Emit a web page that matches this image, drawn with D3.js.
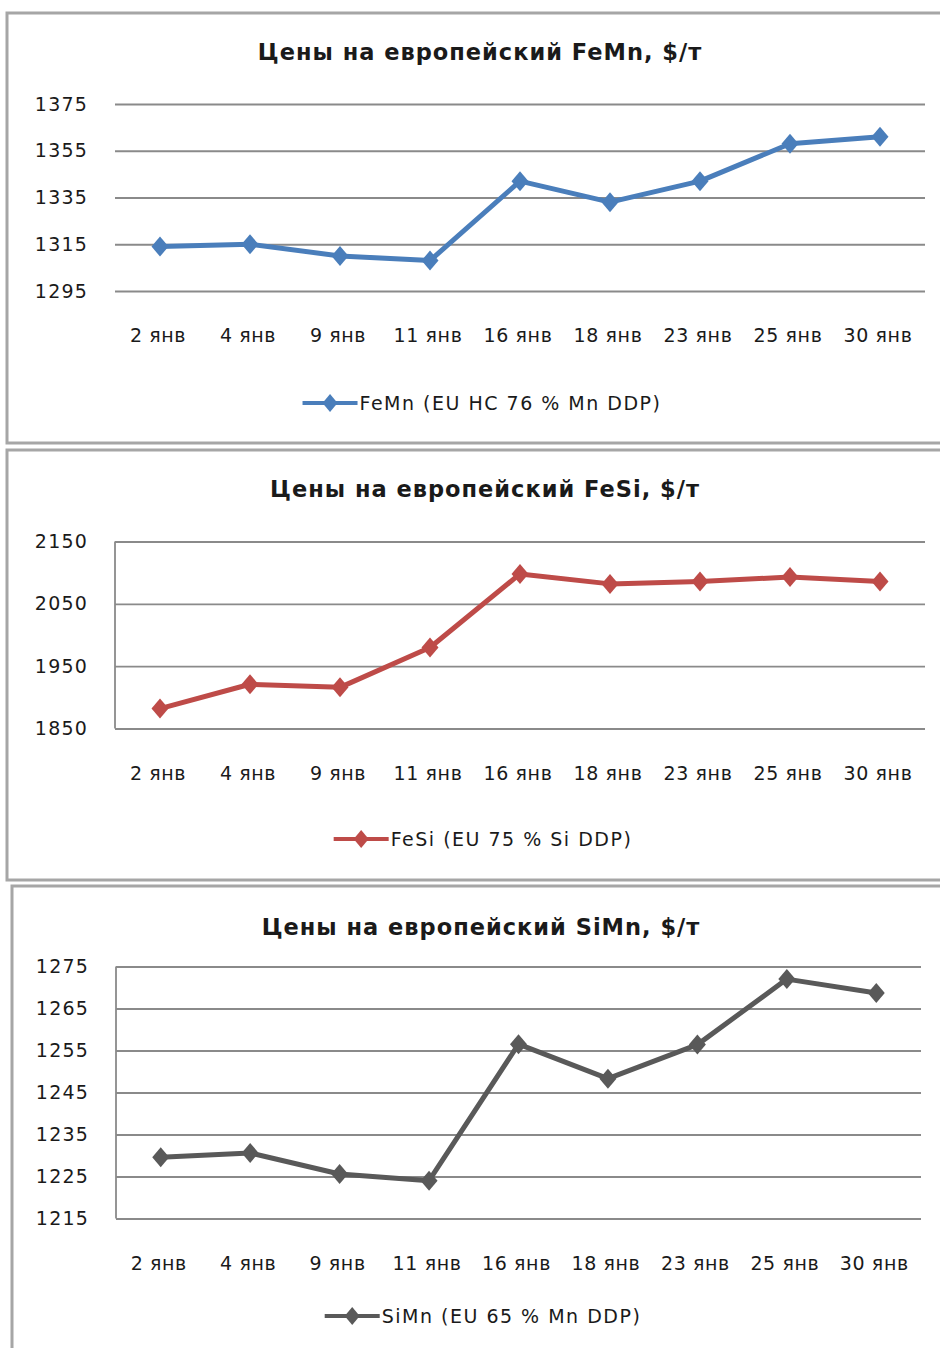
<!DOCTYPE html>
<html>
<head>
<meta charset="utf-8">
<script src="https://cdn.jsdelivr.net/npm/d3@7"></script>
<style>
  body { margin: 0; background: #fff; }
  text { font-family: "DejaVu Sans", "Noto Sans", sans-serif; fill: #1a1a1a; }
</style>
</head>
<body>
<svg id="chart" width="940" height="1348"></svg>
<script>
// categories shared by the three charts
const dates = ["2 янв", "4 янв", "9 янв", "11 янв", "16 янв", "18 янв", "23 янв", "25 янв", "30 янв"];

// FeMn, $/t
const femnValues = [1314, 1315, 1310, 1308, 1342, 1333, 1342, 1358, 1361];
const femnTicks = [1295, 1315, 1335, 1355, 1375];

// FeSi, $/t
const fesiValues = [1882, 1921, 1916, 1980, 2098, 2082, 2086, 2093, 2086];
const fesiTicks = [1850, 1950, 2050, 2150];

// SiMn, $/t
const simnValues = [1229.6, 1230.6, 1225.6, 1224, 1256.5, 1248.3, 1256.4, 1272, 1268.7];
const simnTicks = [1215, 1225, 1235, 1245, 1255, 1265, 1275];

const svg = d3.select("#chart");

const GRID_COLOR = "#8a8a8a";
const BORDER_COLOR = "#a6a6a6";

function diamond(w, h) {
    return "M0," + (-h / 2) + "L" + (w / 2) + ",0L0," + (h / 2) + "L" + (-w / 2) + ",0Z";
}

/**
 * Draws one framed line chart panel
 */
function drawPanel(opts) {
    const g = svg.append("g");

    // frame
    g.append("rect")
        .attr("x", opts.box.x)
        .attr("y", opts.box.y)
        .attr("width", opts.box.w)
        .attr("height", opts.box.h)
        .attr("fill", "#fff")
        .attr("stroke", BORDER_COLOR)
        .attr("stroke-width", 3);

    // title
    g.append("text")
        .attr("x", opts.titleX)
        .attr("y", opts.titleY)
        .attr("text-anchor", "middle")
        .attr("font-size", 22.5)
        .attr("font-weight", "bold")
        .attr("letter-spacing", 1)
        .text(opts.title);

    const x = d3.scaleBand()
        .domain(dates)
        .range([opts.plot.left, opts.plot.right])
        .padding(0);

    const y = d3.scaleLinear()
        .domain([d3.min(opts.ticks), d3.max(opts.ticks)])
        .range([opts.plot.bottom, opts.plot.top]);

    // horizontal grid lines + y labels
    const yAxis = g.append("g")
        .attr("transform", "translate(" + opts.plot.left + ",0)")
        .call(d3.axisLeft(y)
            .tickValues(opts.ticks)
            .tickSize(-(opts.plot.right - opts.plot.left))
            .tickPadding(27)
            .tickFormat(d3.format("d")));
    yAxis.select(".domain").remove();
    yAxis.selectAll(".tick line")
        .attr("stroke", GRID_COLOR)
        .attr("stroke-width", 1.8);
    yAxis.selectAll(".tick text")
        .attr("font-size", 19)
        .attr("font-family", "DejaVu Sans")
        .attr("letter-spacing", 1.2)
        .attr("fill", "#1a1a1a");

    if (opts.yLine) {
        g.append("line")
            .attr("x1", opts.plot.left)
            .attr("x2", opts.plot.left)
            .attr("y1", opts.plot.top)
            .attr("y2", opts.plot.bottom)
            .attr("stroke", GRID_COLOR)
            .attr("stroke-width", 1.8);
    }

    // x labels
    const xAxis = g.append("g")
        .attr("transform", "translate(-2," + opts.plot.bottom + ")")
        .call(d3.axisBottom(x).tickSize(0).tickPadding(38));
    xAxis.select(".domain").remove();
    xAxis.selectAll(".tick text")
        .attr("font-size", 19)
        .attr("font-family", "DejaVu Sans")
        .attr("letter-spacing", 0.6)
        .attr("fill", "#1a1a1a");

    const cx = d => x(d) + x.bandwidth() / 2;

    const line = d3.line()
        .x((v, i) => cx(dates[i]))
        .y(v => y(v));

    g.append("path")
        .datum(opts.values)
        .attr("fill", "none")
        .attr("stroke", opts.color)
        .attr("stroke-width", 5)
        .attr("stroke-linejoin", "round")
        .attr("d", line);

    g.selectAll("path.marker")
        .data(opts.values)
        .enter()
        .append("path")
        .attr("class", "marker")
        .attr("d", diamond(17, 20))
        .attr("fill", opts.color)
        .attr("transform", (v, i) => "translate(" + cx(dates[i]) + "," + y(v) + ")");

    // legend, centred
    const legend = g.append("g");
    const legendText = legend.append("text")
        .attr("x", 57)
        .attr("y", 0)
        .attr("dy", "0.35em")
        .attr("font-size", 19)
        .attr("letter-spacing", 1.5)
        .text(opts.legend);
    const legendWidth = 57 + legendText.node().getComputedTextLength();
    legend.attr("transform", "translate(" + (opts.legendCx - legendWidth / 2) + "," + opts.legendY + ")");
    legend.append("line")
        .attr("x1", 0)
        .attr("x2", 55)
        .attr("stroke", opts.color)
        .attr("stroke-width", 4);
    legend.append("path")
        .attr("d", diamond(15, 18))
        .attr("fill", opts.color)
        .attr("transform", "translate(27.5,0)");
}

drawPanel({
    box: { x: 7, y: 13, w: 950, h: 430 },
    title: "Цены на европейский FeMn, $/т",
    titleX: 480, titleY: 60,
    plot: { left: 115, right: 925, top: 104, bottom: 291 },
    ticks: femnTicks,
    values: femnValues,
    color: "#4a7ebb",
    yLine: false,
    legend: "FeMn (EU HC 76 % Mn DDP)",
    legendCx: 482, legendY: 403
});

drawPanel({
    box: { x: 7, y: 450, w: 950, h: 430 },
    title: "Цены на европейский FeSi, $/т",
    titleX: 485, titleY: 497,
    plot: { left: 115, right: 925, top: 541.5, bottom: 728.5 },
    ticks: fesiTicks,
    values: fesiValues,
    color: "#be4b48",
    yLine: true,
    legend: "FeSi (EU 75 % Si DDP)",
    legendCx: 483, legendY: 839
});

drawPanel({
    box: { x: 12, y: 886, w: 950, h: 480 },
    title: "Цены на европейский SiMn, $/т",
    titleX: 481, titleY: 935,
    plot: { left: 116, right: 921, top: 966.5, bottom: 1218.5 },
    ticks: simnTicks,
    values: simnValues,
    color: "#595959",
    yLine: true,
    legend: "SiMn (EU 65 % Mn DDP)",
    legendCx: 483, legendY: 1316
});
</script>
</body>
</html>
